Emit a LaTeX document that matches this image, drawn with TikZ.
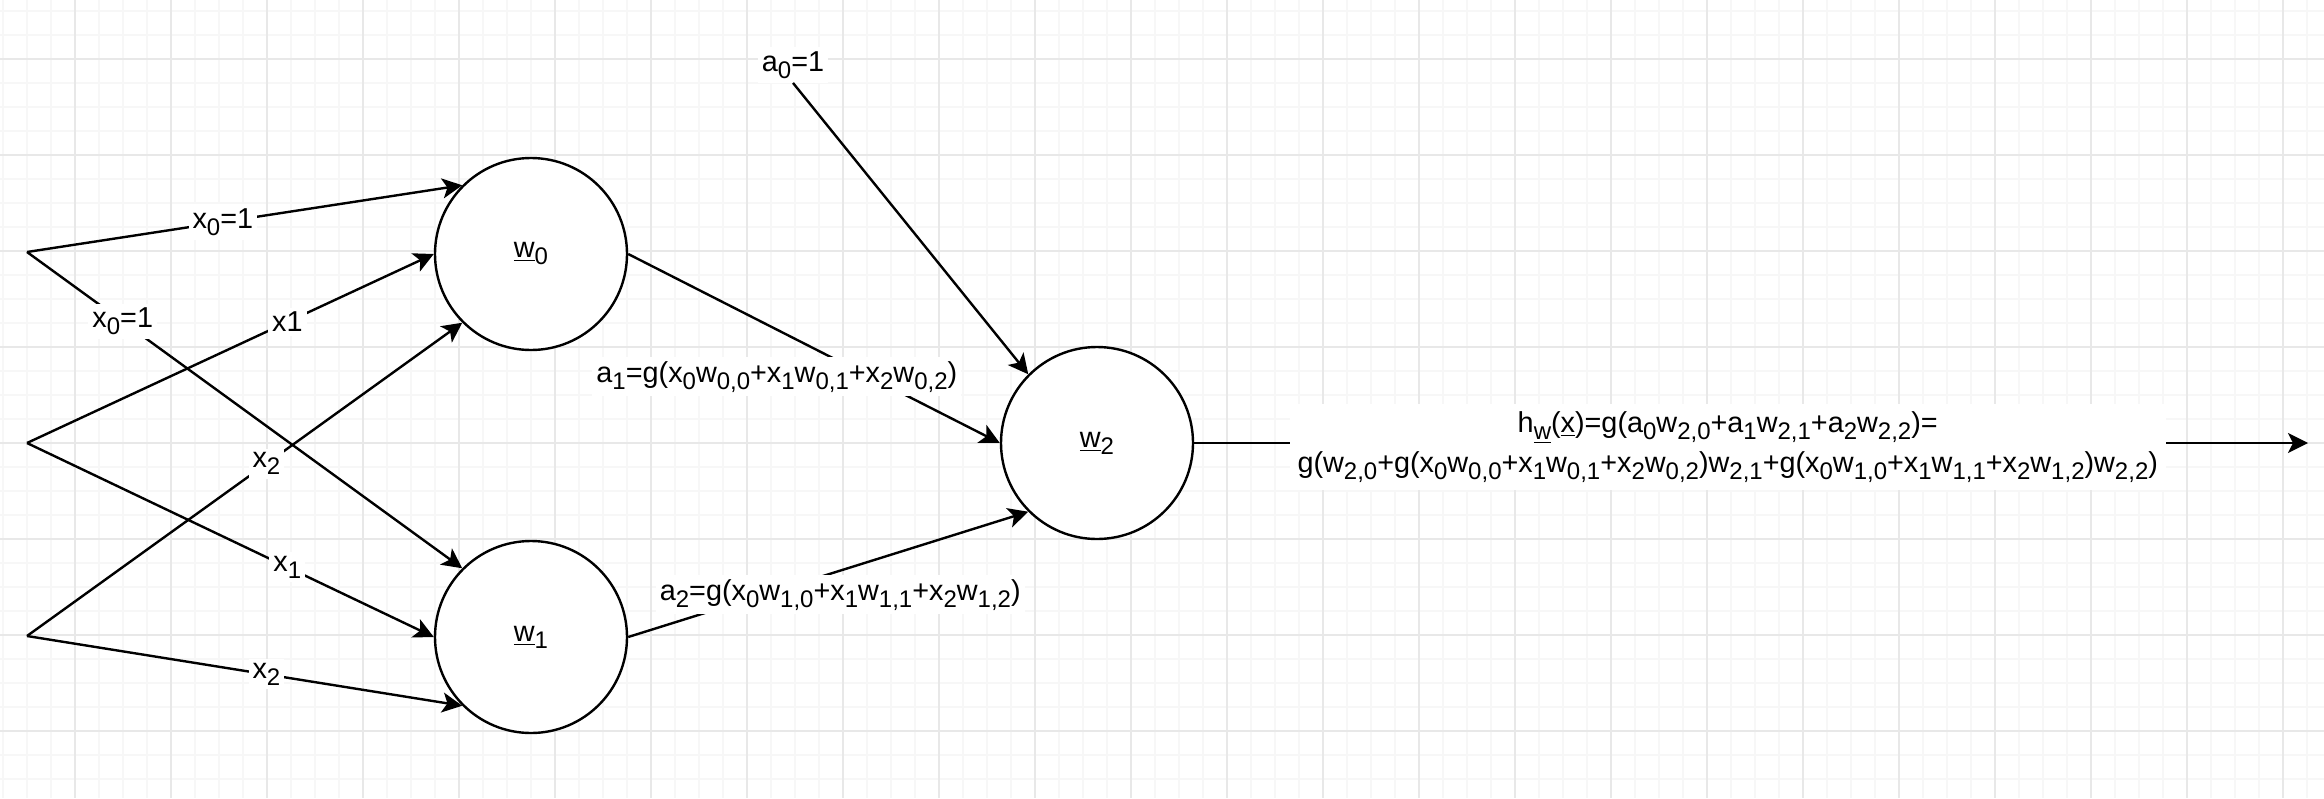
\documentclass[tikz,border=0pt]{standalone}
\usepackage{fontspec}
\setmainfont{Liberation Sans}
\usetikzlibrary{arrows.meta}
% lowered, smaller index text
\newcommand{\dn}[1]{\raisebox{-3.5pt}{\fontsize{12}{12}\selectfont #1}}
\newcommand{\uw}{\underline{w}}
\begin{document}
\begin{tikzpicture}[x=0.5pt,y=-0.5pt,
  every node/.style={font=\fontsize{14.4}{20}\selectfont},
  neuron/.style={circle,draw=black,line width=1.2pt,fill=white,minimum size=96pt,inner sep=0pt},
  arr/.style={line width=1.2pt,-{Stealth[length=10pt,width=10pt,inset=2.5pt]}},
  lbl/.style={fill=white,inner sep=2pt},
  minorgrid/.style={line width=1pt,color=black!3},
  majorgrid/.style={line width=1pt,color=black!9}]
\useasboundingbox (0,0) rectangle (2324,798);
\fill[white] (0,0) rectangle (2324,798);
% background grid
\foreach \x in {3,27,...,2323} \draw[minorgrid] (\x,0) -- (\x,798);
\foreach \y in {11,35,...,797} \draw[minorgrid] (0,\y) -- (2324,\y);
\foreach \x in {75,171,...,2323} \draw[majorgrid] (\x,0) -- (\x,798);
\foreach \y in {59,155,...,797} \draw[majorgrid] (0,\y) -- (2324,\y);

% inputs
\coordinate (i0) at (27,252);
\coordinate (i1) at (27,443);
\coordinate (i2) at (27,636);
\coordinate (out) at (2308,443);

% neurons
\node[neuron] (w0) at (531,254) {\uw\dn{0}};
\node[neuron] (w1) at (531,637) {\uw\dn{1}};
\node[neuron] (w2) at (1097,443) {\uw\dn{2}};
\node[lbl] (a0) at (793,65) {a\dn{0}=1};

% input connections
\draw[arr] (i0) -- (w0.135) node[lbl,pos=0.45] {x\dn{0}=1};
\draw[arr] (i0) -- (w1.135) node[lbl,pos=0.22] {x\dn{0}=1};
\draw[arr] (i1) -- (w0.west) node[lbl,pos=0.64] {x1};
\draw[arr] (i1) -- (w1.west) node[lbl,pos=0.64] {x\dn{1}};
\draw[arr] (i2) -- (w0.225) node[lbl,pos=0.55] {x\dn{2}};
\draw[arr] (i2) -- (w1.225) node[lbl,pos=0.55] {x\dn{2}};

% hidden layer to output
\draw[arr] (w0.east) -- (w2.west)
  node[lbl,pos=0.4,yshift=-23.5pt] {a\dn{1}=g(x\dn{0}w\dn{0,0}+x\dn{1}w\dn{0,1}+x\dn{2}w\dn{0,2})};
\draw[arr] (w1.east) -- (w2.225)
  node[lbl,pos=0.53,yshift=-12pt] {a\dn{2}=g(x\dn{0}w\dn{1,0}+x\dn{1}w\dn{1,1}+x\dn{2}w\dn{1,2})};
\draw[arr] (a0.south) -- (w2.135);

% output
\draw[arr] (w2.east) -- (out)
  node[lbl,pos=0.479,yshift=-2pt,align=center,inner sep=4pt]
  {h\dn{\uw}(\underline{x})=g(a\dn{0}w\dn{2,0}+a\dn{1}w\dn{2,1}+a\dn{2}w\dn{2,2})=\\
   g(w\dn{2,0}+g(x\dn{0}w\dn{0,0}+x\dn{1}w\dn{0,1}+x\dn{2}w\dn{0,2})w\dn{2,1}+g(x\dn{0}w\dn{1,0}+x\dn{1}w\dn{1,1}+x\dn{2}w\dn{1,2})w\dn{2,2})};
\end{tikzpicture}
\end{document}
